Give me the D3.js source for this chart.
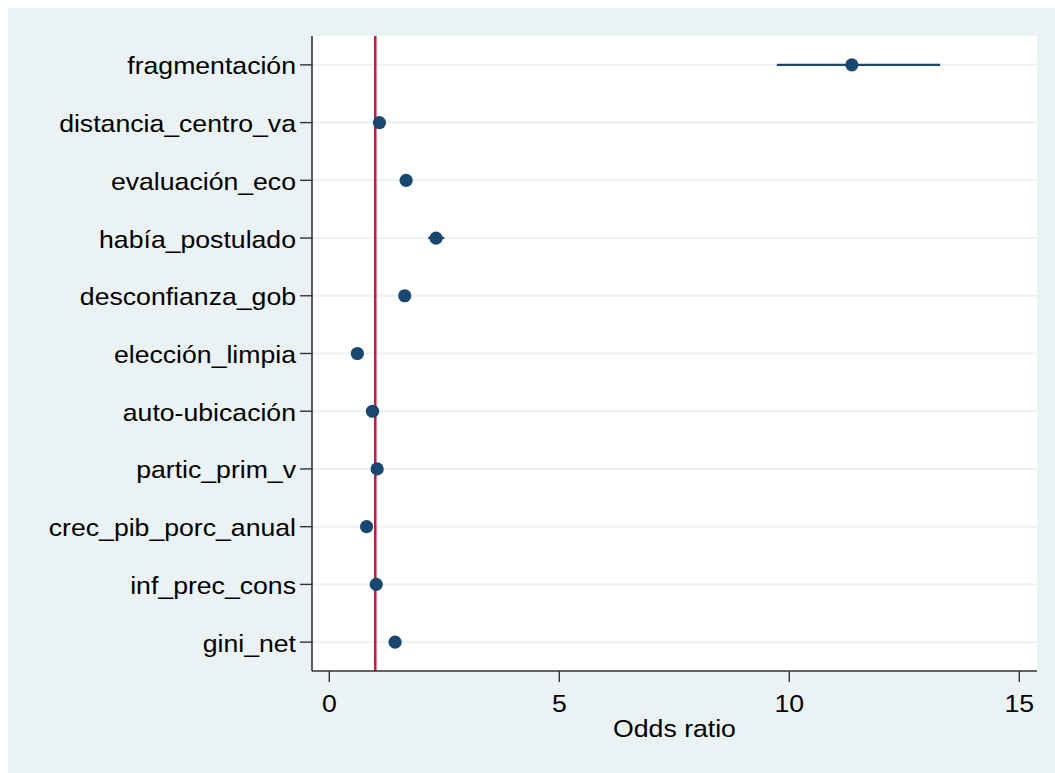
<!DOCTYPE html>
<html><head><meta charset="utf-8">
<script src="https://cdn.jsdelivr.net/npm/d3@7"></script>
<style>body{margin:0;background:#fff}svg{display:block}text{font-family:"Liberation Sans",Arial,sans-serif;fill:#000}</style>
</head><body>
<script>
const categories = ["fragmentación","distancia_centro_va","evaluación_eco","había_postulado","desconfianza_gob","elección_limpia","auto-ubicación","partic_prim_v","crec_pib_porc_anual","inf_prec_cons","gini_net"];
const estimates = [11.36, 1.09, 1.67, 2.32, 1.64, 0.61, 0.94, 1.04, 0.81, 1.02, 1.43];
const ciLow  = [9.73, 1.05, 1.62, 2.15, 1.60, 0.58, 0.91, 1.01, 0.78, 0.99, 1.38];
const ciHigh = [13.28, 1.13, 1.72, 2.50, 1.68, 0.64, 0.97, 1.07, 0.84, 1.05, 1.48];
const xTicks = [0, 5, 10, 15];
const refLine = 1;
const xTitle = "Odds ratio";

const W = 1055, H = 773;
const plot = {left: 312, right: 1037, top: 36, bottom: 671};
const svg = d3.select("body").append("svg").attr("width", W).attr("height", H);
svg.append("rect").attr("x", 8).attr("y", 8).attr("width", W - 8).attr("height", H - 8).attr("fill", "#eaf2f3");
svg.append("rect").attr("x", plot.left).attr("y", plot.top).attr("width", plot.right - plot.left).attr("height", plot.bottom - plot.top).attr("fill", "#fff");

const x = d3.scaleLinear().domain([-0.376, 15.385]).range([plot.left, plot.right]);
const y = d3.scalePoint().domain(categories).range([plot.top, plot.bottom]).padding(0.5);
const SX = 1.11, FS = 24;

// gridlines
svg.append("g").selectAll("line").data(categories).join("line")
  .attr("x1", plot.left).attr("x2", plot.right)
  .attr("y1", d => y(d)).attr("y2", d => y(d))
  .attr("stroke", "#eaf2f3").attr("stroke-width", 2);

// reference line
svg.append("line").attr("x1", x(refLine)).attr("x2", x(refLine))
  .attr("y1", plot.top).attr("y2", plot.bottom)
  .attr("stroke", "#c8163e").attr("stroke-width", 2.5);

// CIs
svg.append("g").selectAll("line").data(categories).join("line")
  .attr("x1", (d, i) => x(ciLow[i])).attr("x2", (d, i) => x(ciHigh[i]))
  .attr("y1", d => y(d)).attr("y2", d => y(d))
  .attr("stroke", "#1a476f").attr("stroke-width", 2.2);

// points
svg.append("g").selectAll("circle").data(categories).join("circle")
  .attr("cx", (d, i) => x(estimates[i])).attr("cy", d => y(d)).attr("r", 6.6)
  .attr("fill", "#1a476f");

// y axis
const yAxisG = svg.append("g");
yAxisG.append("line").attr("x1", plot.left).attr("x2", plot.left).attr("y1", plot.top).attr("y2", plot.bottom)
  .attr("stroke", "#333").attr("stroke-width", 1.6);
yAxisG.selectAll("line.tick").data(categories).join("line").attr("class", "tick")
  .attr("x1", plot.left - 12).attr("x2", plot.left).attr("y1", d => y(d)).attr("y2", d => y(d))
  .attr("stroke", "#333").attr("stroke-width", 1.4);
yAxisG.selectAll("text").data(categories).join("text")
  .attr("transform", d => `translate(${plot.left - 16},${y(d) + 9.5}) scale(${SX},1)`)
  .attr("text-anchor", "end").attr("font-size", FS).text(d => d);

// x axis
const xAxisG = svg.append("g");
xAxisG.append("line").attr("x1", plot.left).attr("x2", plot.right).attr("y1", plot.bottom).attr("y2", plot.bottom)
  .attr("stroke", "#333").attr("stroke-width", 1.6);
xAxisG.selectAll("line.tick").data(xTicks).join("line").attr("class", "tick")
  .attr("x1", d => x(d)).attr("x2", d => x(d)).attr("y1", plot.bottom).attr("y2", plot.bottom + 11)
  .attr("stroke", "#333").attr("stroke-width", 1.4);
xAxisG.selectAll("text").data(xTicks).join("text")
  .attr("transform", d => `translate(${x(d)},712) scale(${SX},1)`)
  .attr("text-anchor", "middle").attr("font-size", FS).text(d => d);
svg.append("text").attr("transform", `translate(${(plot.left + plot.right) / 2},737) scale(${SX},1)`)
  .attr("text-anchor", "middle").attr("font-size", FS).text(xTitle);
</script>
</body></html>
